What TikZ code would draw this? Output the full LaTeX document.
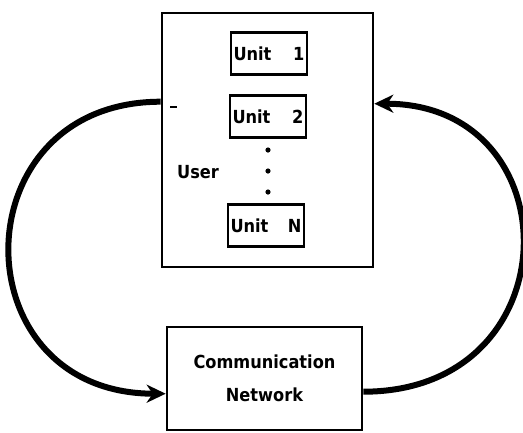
\documentclass[tikz,border=0pt]{standalone}
\usepackage{fontspec}
\setmainfont{DejaVu Sans Condensed}
\usetikzlibrary{arrows.meta,calc}
\tikzset{
  box/.style={draw, line width=2.6pt, rectangle, inner sep=0pt},
  unitbox/.style={box, minimum width=76pt, minimum height=42pt,
    font=\fontsize{18}{20}\selectfont\bfseries},
  flow/.style={line width=6pt, -{Stealth[length=19pt,width=18pt,inset=6pt]}},
  lbl/.style={font=\fontsize{18}{20}\selectfont\bfseries, inner sep=0pt}
}
\begin{document}
\begin{tikzpicture}[x=1pt,y=-1pt]
  \useasboundingbox (0,0) rectangle (523,432);
  % user block with its units
  \node[box, minimum width=211pt, minimum height=254pt] (user) at (267.5,140) {};
  \node[unitbox] (u1) at (269,53.5) {\makebox[71pt][s]{Unit\hfill 1}};
  \node[unitbox] (u2) at (268,116.5) {\makebox[71pt][s]{Unit\hfill 2}};
  \node[unitbox] (uN) at (266,225.5) {\makebox[71pt][s]{Unit\hfill N}};
  \foreach \yy in {150,171,192} \fill (268,\yy) circle (2.6pt);
  \node[lbl] (userlbl) at (198,172) {User};
  \draw[line width=2.4pt] (170,107) -- (177,107);
  % network block
  \node[box, minimum width=195pt, minimum height=103pt, align=center,
        font=\fontsize{18}{33}\selectfont\bfseries] (net) at (264.5,378.5)
        {Communication\\Network};
  % connection points on the blocks
  \coordinate (uw) at ($(user.north west)+(0,90)$);
  \coordinate (ue) at ($(user.north east)+(0,92)$);
  \coordinate (nw) at ($(net.north west)+(0,68)$);
  \coordinate (ne) at ($(net.north east)+(0,66)$);
  % loops between user and network
  \draw[flow] (uw) .. controls ($(uw)+(-202,0)$) and ($(nw)+(-207,0)$) .. (nw);
  \draw[flow] (ne) .. controls ($(ne)+(210,0)$) and ($(ue)+(199,0)$) .. (ue);
\end{tikzpicture}
\end{document}
